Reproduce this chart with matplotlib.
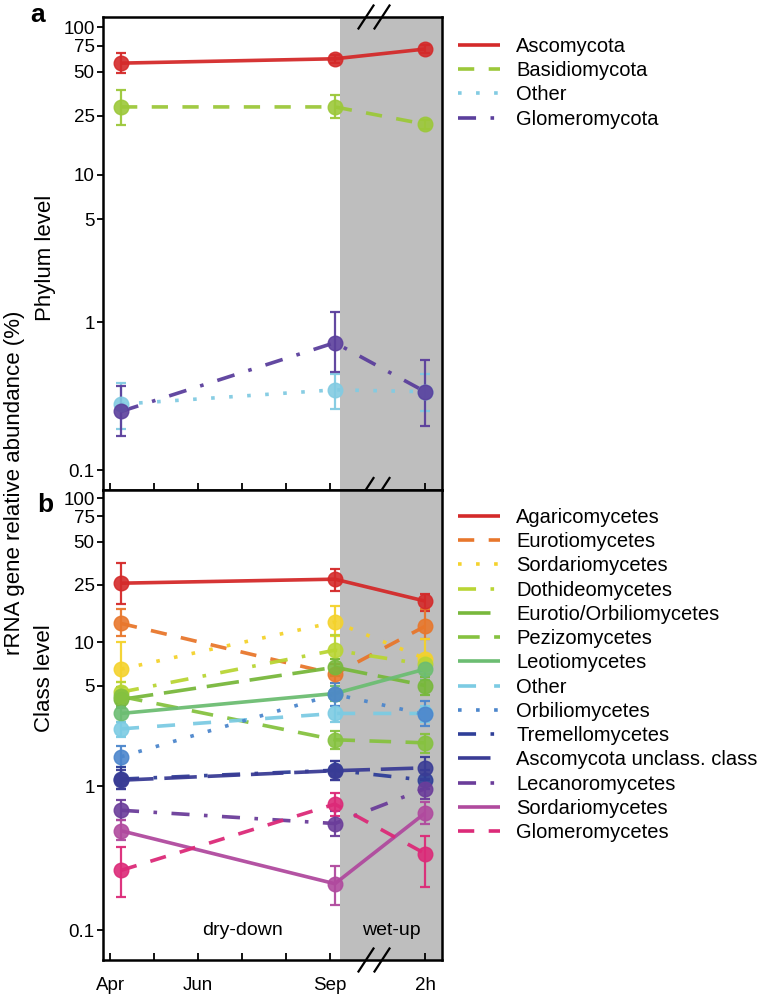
import matplotlib
matplotlib.use("Agg")
import matplotlib.pyplot as plt
from matplotlib.lines import Line2D
import numpy as np

plt.rcParams['font.family'] = ['Liberation Sans', 'DejaVu Sans']

# ---------------- data ----------------
time_labels = ["Apr", "Sep", "2h"]
time_pos = [0.25, 5.11, 7.16]          # month units from 1 Apr
tick_pos = [0, 1, 2, 3, 4, 5, 7.16]
tick_labels = ["Apr", "", "Jun", "", "", "Sep", "2h"]
yticks = [0.1, 1, 5, 10, 25, 50, 75, 100]
ytick_labels = ["0.1", "1", "5", "10", "25", "50", "75", "100"]

phylum_names = ["Ascomycota", "Basidiomycota", "Other", "Glomeromycota"]
phylum_mean = [[57, 61, 71], [28.8, 28.8, 22.0], [0.28, 0.35, 0.34], [0.25, 0.73, 0.34]]
phylum_lo = [[49, 57, 67], [21.8, 24.3, 20.5], [0.19, 0.26, 0.25], [0.17, 0.46, 0.20]]
phylum_hi = [[67, 65, 76], [37.5, 34.7, 23.5], [0.39, 0.45, 0.45], [0.37, 1.17, 0.56]]
phylum_colors = ["#d42a2a", "#9cc83a", "#82cbe2", "#5b3f9c"]

class_names = ["Agaricomycetes", "Eurotiomycetes", "Sordariomycetes", "Dothideomycetes",
               "Eurotio/Orbiliomycetes", "Pezizomycetes", "Leotiomycetes", "Other",
               "Orbiliomycetes", "Tremellomycetes", "Ascomycota unclass. class",
               "Lecanoromycetes", "Sordariomycetes", "Glomeromycetes"]
class_mean = [[25.7, 27.4, 19.3], [13.5, 6.0, 12.9], [6.5, 13.8, 7.7], [4.5, 8.8, 7.0],
              [4.0, 6.7, 5.0], [4.2, 2.1, 2.0], [3.2, 4.4, 6.5], [2.5, 3.2, 3.2],
              [1.6, 4.35, 3.15], [1.12, 1.29, 1.1], [1.1, 1.28, 1.34],
              [0.68, 0.55, 0.96], [0.49, 0.21, 0.65], [0.26, 0.75, 0.34]]
class_lo = [[18.4, 22.6, 16.4], [11.0, 5.2, 10.5], [5.3, 11.0, 6.0], [3.8, 7.6, 6.0],
            [3.5, 5.8, 4.3], [3.6, 1.8, 1.7], [2.8, 3.9, 5.5], [2.2, 2.8, 2.8],
            [1.35, 3.6, 2.6], [0.95, 1.1, 0.95], [0.95, 1.1, 1.1],
            [0.58, 0.45, 0.82], [0.42, 0.15, 0.55], [0.17, 0.62, 0.20]]
class_hi = [[35.4, 32.5, 21.5], [17.0, 7.0, 17.0], [10.0, 17.8, 10.5], [5.3, 11.2, 8.0],
            [4.6, 7.7, 5.7], [4.9, 2.4, 2.3], [3.6, 5.0, 7.5], [2.8, 3.6, 3.6],
            [1.9, 5.2, 3.9], [1.35, 1.5, 1.3], [1.3, 1.5, 1.6],
            [0.80, 0.67, 1.12], [0.58, 0.28, 0.78], [0.38, 0.90, 0.45]]
class_colors = ["#d42a2a", "#e8772c", "#f4d22c", "#b9d534", "#78b83c", "#86c240",
                "#6cbd72", "#7ccbe3", "#4c86cc", "#2f3f98", "#3a3c95", "#6b3d9a",
                "#b04a9e", "#dc2a78"]

# ---------------- styles ----------------
SOLID = (0, ())
DASH = (0, (4.5, 4))
DOT = (0, (1, 4))
DASHDOT = (0, (5, 4, 1, 4))
LONGDASH = (0, (9, 3))
phylum_ls = [SOLID, DASH, DOT, DASHDOT]
class_ls = [SOLID, DASH, DOT, DASHDOT, LONGDASH, (0, (6, 4)), SOLID, (0, (5, 5)),
            DOT, DASHDOT, LONGDASH, DASHDOT, SOLID, DASH]

W, H = 766, 998
fig = plt.figure(figsize=(W / 100, H / 100), dpi=100)

def fx(px):
    return px / W

def fy(py):
    return 1 - py / H

left, right = 103, 442
axa = fig.add_axes([fx(left), fy(489.5), fx(right - left), (489.5 - 17) / H])
axb = fig.add_axes([fx(left), fy(960), fx(right - left), (960 - 489.5) / H])

xlim = (-0.16, 7.545)
shade_start = 5.23
LW = 2.6

def draw_panel(ax, names, means, los, his, colors, styles, ylim):
    ax.axvspan(shade_start, xlim[1] + 1, color="#bebebe", zorder=0, lw=0)
    for m, lo, hi, c, ls in zip(means, los, his, colors, styles):
        m = np.array(m); lo = np.array(lo); hi = np.array(hi)
        ax.plot(time_pos, m, color=c, lw=LW, linestyle=ls, zorder=2, alpha=0.95)
        ax.errorbar(time_pos, m, yerr=[m - lo, hi - m], fmt="none", ecolor=c,
                    elinewidth=1.6, capsize=3.5, capthick=1.6, zorder=3, alpha=0.95)
        ax.plot(time_pos, m, "o", color=c, ms=10.5, zorder=4, alpha=0.9, mec=c)
    ax.set_yscale("log")
    ax.set_ylim(*ylim)
    ax.set_xlim(*xlim)
    ax.set_yticks(yticks)
    ax.set_yticklabels(ytick_labels)
    ax.yaxis.set_minor_locator(matplotlib.ticker.NullLocator())
    ax.set_xticks(tick_pos)
    ax.tick_params(axis="x", direction="in", length=5, width=1.3)
    ax.tick_params(axis="y", direction="out", length=4, width=1.3, labelsize=13.5, pad=2)
    ax.tick_params(axis="x", labelsize=13.5, pad=12)
    for s in ax.spines.values():
        s.set_linewidth(1.8)

draw_panel(axa, phylum_names, phylum_mean, phylum_lo, phylum_hi, phylum_colors,
           phylum_ls, (0.074, 117))
draw_panel(axb, class_names, class_mean, class_lo, class_hi, class_colors,
           class_ls, (0.062, 115))
axa.set_xticklabels([])
axb.set_xticklabels(tick_labels)

# break marks
def slashes(ax, yfrac, axh_px):
    for xc in (366, 382):
        xf = (xc - left) / (right - left)
        dx = 7.5 / (right - left)
        dy = 11.5 / axh_px
        ax.add_line(Line2D([xf - dx, xf + dx], [yfrac - dy, yfrac + dy],
                           transform=ax.transAxes, color="black", lw=1.6,
                           clip_on=False, zorder=10))

slashes(axa, 1.0, 472.5)
slashes(axa, 0.0, 472.5)
slashes(axb, 0.0, 470.5)

axb.text(3.0, 0.1, "dry-down", ha="center", va="center", fontsize=14)
axb.text(6.4, 0.1, "wet-up", ha="center", va="center", fontsize=14)

# labels
fig.text(fx(15), fy(483), "rRNA gene relative abundance (%)", rotation=90,
         ha="center", va="center", fontsize=16)
fig.text(fx(45), fy(258), "Phylum level", rotation=90, ha="center", va="center", fontsize=16)
fig.text(fx(45), fy(678), "Class level", rotation=90, ha="center", va="center", fontsize=16)
fig.text(fx(38), fy(15), "a", ha="center", va="center", fontsize=19, fontweight="bold")
fig.text(fx(45), fy(505), "b", ha="center", va="center", fontsize=19, fontweight="bold")

# legends
def make_legend(names, colors, styles, top_px):
    handles = [Line2D([0], [0], color=c, lw=LW, linestyle=ls) for c, ls in zip(colors, styles)]
    leg = fig.legend(handles, names, loc="upper left", bbox_to_anchor=(fx(458), fy(top_px)),
                     frameon=False, fontsize=14.5, handlelength=2.1, handletextpad=0.8,
                     labelspacing=0.26, borderpad=0, borderaxespad=0)
    return leg

make_legend(phylum_names, phylum_colors, phylum_ls, 37)
make_legend(class_names, class_colors, class_ls, 508)

fig.savefig("out.png", dpi=100)
